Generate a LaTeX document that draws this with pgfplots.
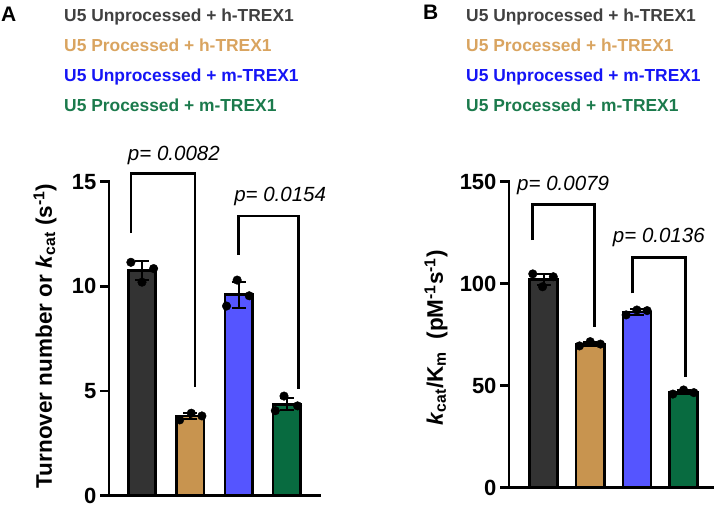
\documentclass[border=0pt]{standalone}
\usepackage{pgfplots}
\pgfplotsset{compat=1.18}
\usepackage{fontspec}
\setmainfont{Liberation Sans}
\definecolor{cD}{HTML}{333333}
\definecolor{cT}{HTML}{C8944F}
\definecolor{cB}{HTML}{5555FF}
\definecolor{cG}{HTML}{086B40}
\definecolor{tD}{HTML}{404040}
\definecolor{tT}{HTML}{D9A460}
\definecolor{tB}{HTML}{1515F5}
\definecolor{tG}{HTML}{1B7A4C}
\pgfplotsset{
  panel/.style={
    scale only axis, clip=false,
    axis x line*=bottom, axis y line*=left,
    axis line style={line width=2.8pt, -, line cap=rect},
    xtick=\empty,
    tick align=outside, major tick length=9pt,
    ytick style={line width=2.5pt, black},
    /pgf/number format/assume math mode=true,
    yticklabel style={font=\fontsize{22}{22}\selectfont\bfseries},
    ylabel style={font=\fontsize{22.5}{24}\selectfont\bfseries, anchor=center},
  },
  barp/.style={ybar, bar shift=0pt, draw=black, line width=2.6pt},
  errp/.style={draw=none, mark=none, forget plot,
    error bars/.cd, y dir=both, y explicit,
    error bar style={line width=2pt, black},
    error mark options={rotate=90, mark size=7pt, line width=2pt, black}},
  dotp/.style={only marks, mark=*, mark size=4.3pt, black},
  brk/.style={black, line width=2.8pt, mark=none},
}
\begin{document}
\begin{tikzpicture}
\useasboundingbox (0,0) rectangle (720pt,508pt);
% legends
\node[anchor=base west, font=\fontsize{21}{21}\selectfont\bfseries, inner sep=0] at (1pt,486.3pt) {A};
\node[anchor=base west, font=\fontsize{21}{21}\selectfont\bfseries, inner sep=0] at (423pt,488pt) {B};
\foreach \xx in {64,466} {
\node[anchor=base west, font=\fontsize{17.4}{17.4}\selectfont\bfseries, inner sep=0, text=tD] at (\xx pt,486.3pt) {U5 Unprocessed + h-TREX1};
\node[anchor=base west, font=\fontsize{17.4}{17.4}\selectfont\bfseries, inner sep=0, text=tT] at (\xx pt,456.3pt) {U5 Processed + h-TREX1};
\node[anchor=base west, font=\fontsize{17.4}{17.4}\selectfont\bfseries, inner sep=0, text=tB] at (\xx pt,426.3pt) {U5 Unprocessed + m-TREX1};
\node[anchor=base west, font=\fontsize{17.4}{17.4}\selectfont\bfseries, inner sep=0, text=tG] at (\xx pt,396.3pt) {U5 Processed + m-TREX1};
}
% Panel A
\begin{axis}[panel, at={(109pt,12.3pt)}, anchor=south west,
  width=211pt, height=314pt,
  xmin=-0.683, xmax=3.685, ymin=0, ymax=15, ytick={0,5,10,15},
  ylabel={Turnover number or \textit{k}\textsubscript{cat} (s\textsuperscript{-1})},
  ylabel style={at={(axis description cs:-0.303,0.509)}},
]
\addplot[barp, bar width=0.57, fill=cD] coordinates {(0,10.75)};
\addplot[barp, bar width=0.57, fill=cT] coordinates {(1,3.8)};
\addplot[barp, bar width=0.57, fill=cB] coordinates {(2,9.6)};
\addplot[barp, bar width=0.57, fill=cG] coordinates {(3,4.37)};
\addplot[errp] coordinates {(0,10.75) +- (0,0.45) (1,3.8) +- (0,0.13) (2,9.6) +- (0,0.62) (3,4.37) +- (0,0.3)};
\addplot[dotp] coordinates {(-0.23,11.15) (0.0,10.2) (0.24,10.85)
  (0.78,3.62) (1.02,3.94) (1.24,3.81)
  (1.75,9.06) (1.97,10.3) (2.22,9.55)
  (2.76,4.06) (2.94,4.76) (3.22,4.29)};
\addplot[brk] coordinates {(-0.228,12.54) (-0.228,15.40) (1.097,15.40) (1.097,5.21)};
\addplot[brk] coordinates {(1.993,11.50) (1.993,13.36) (3.234,13.36) (3.234,5.08)};
\node[anchor=base, font=\fontsize{20.5}{20.5}\selectfont\itshape, inner sep=0] at (axis cs:0.66,16.02) {p= 0.0082};
\node[anchor=base, font=\fontsize{20.5}{20.5}\selectfont\itshape, inner sep=0] at (axis cs:2.86,14.05) {p= 0.0154};
\end{axis}
% Panel B
\begin{axis}[panel, at={(509pt,20.3pt)}, anchor=south west,
  width=204pt, height=306pt,
  xmin=-0.739, xmax=3.63, ymin=0, ymax=150, ytick={0,50,100,150},
  ylabel={\textit{k}\textsubscript{cat}/K\textsubscript{m}\ \ (pM\textsuperscript{-1}s\textsuperscript{-1})},
  ylabel style={at={(axis description cs:-0.358,0.489)}},
]
\addplot[barp, bar width=0.6, fill=cD] coordinates {(0,102.2)};
\addplot[barp, bar width=0.6, fill=cT] coordinates {(1,70.5)};
\addplot[barp, bar width=0.6, fill=cB] coordinates {(2,86.2)};
\addplot[barp, bar width=0.6, fill=cG] coordinates {(3,46.8)};
\addplot[errp] coordinates {(0,102.2) +- (0,2.7) (1,70.5) +- (0,1.0) (2,86.2) +- (0,1.3) (3,46.8) +- (0,1.0)};
\addplot[dotp] coordinates {(-0.23,104.8) (-0.02,98.5) (0.21,103.4)
  (0.77,69.5) (1.0,71.6) (1.22,70.4)
  (1.77,84.7) (2.0,87.1) (2.22,86.8)
  (2.77,45.9) (3.0,47.9) (3.22,46.6)};
\addplot[brk] coordinates {(-0.24,121.4) (-0.24,138.9) (1.088,138.9) (1.088,78.9)};
\addplot[brk] coordinates {(1.90,95.3) (1.90,112.7) (3.045,112.7) (3.045,54.4)};
\node[anchor=base, font=\fontsize{20.5}{20.5}\selectfont\itshape, inner sep=0] at (axis cs:0.42,145.6) {p= 0.0079};
\node[anchor=base, font=\fontsize{20.5}{20.5}\selectfont\itshape, inner sep=0] at (axis cs:2.47,120.1) {p= 0.0136};
\end{axis}
\end{tikzpicture}
\end{document}
